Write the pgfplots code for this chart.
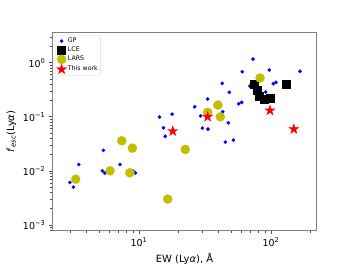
\documentclass[border=0pt]{standalone}
\usepackage{fontspec}
\setmainfont{DejaVu Sans}
\usepackage{pgfplots}
\pgfplotsset{compat=1.18}
\definecolor{mplyellow}{RGB}{191,191,0}
\pgfdeclareplotmark{fstar}{%
  \pgfpathmoveto{\pgfpoint{0pt}{\pgfplotmarksize}}%
  \pgfpathlineto{\pgfpoint{-0.2245\pgfplotmarksize}{0.309\pgfplotmarksize}}%
  \pgfpathlineto{\pgfpoint{-0.9511\pgfplotmarksize}{0.309\pgfplotmarksize}}%
  \pgfpathlineto{\pgfpoint{-0.3633\pgfplotmarksize}{-0.118\pgfplotmarksize}}%
  \pgfpathlineto{\pgfpoint{-0.5878\pgfplotmarksize}{-0.809\pgfplotmarksize}}%
  \pgfpathlineto{\pgfpoint{0pt}{-0.382\pgfplotmarksize}}%
  \pgfpathlineto{\pgfpoint{0.5878\pgfplotmarksize}{-0.809\pgfplotmarksize}}%
  \pgfpathlineto{\pgfpoint{0.3633\pgfplotmarksize}{-0.118\pgfplotmarksize}}%
  \pgfpathlineto{\pgfpoint{0.9511\pgfplotmarksize}{0.309\pgfplotmarksize}}%
  \pgfpathlineto{\pgfpoint{0.2245\pgfplotmarksize}{0.309\pgfplotmarksize}}%
  \pgfpathclose
  \pgfusepathqfillstroke
}
\begin{document}
\begin{tikzpicture}
\path (-52.3bp,-35.3bp) rectangle (299.7bp,230.7bp);
\begin{axis}[
  at={(0,0)}, anchor=south west, scale only axis,
  width=264.4bp, height=198.4bp,
  xmode=log, ymode=log,
  xmin=2.2, xmax=222, ymin=7.8e-4, ymax=3.66,
  xtick={10,100}, xticklabels={10\textsuperscript{1},10\textsuperscript{2}},
  ytick={0.001,0.01,0.1,1},
  yticklabels={10\textsuperscript{−3},10\textsuperscript{−2},10\textsuperscript{−1},10\textsuperscript{0}},
  minor xtick={3,4,5,6,7,8,9,20,30,40,50,60,70,80,90,200},
  minor ytick={0.0008,0.0009,0.002,0.003,0.004,0.005,0.006,0.007,0.008,0.009,0.02,0.03,0.04,0.05,0.06,0.07,0.08,0.09,0.2,0.3,0.4,0.5,0.6,0.7,0.8,0.9,2,3},
  tick align=outside, xtick pos=bottom, ytick pos=left,
  major tick length=3.5bp, minor tick length=2bp,
  tick style={black!70, line width=0.6bp},
  axis line style={gray, line width=0.8bp},
  ticklabel style={font=\fontsize{9.5}{11}\selectfont},
  label style={font=\fontsize{10}{12}\selectfont},
  xlabel={EW (Ly\textit{α}), Å},
  ylabel={\textit{f}\textsubscript{\textit{esc}}(Ly\textit{α})},
  legend image code/.code={\draw[mark repeat=2,mark phase=2,#1] plot coordinates {(0bp,0bp)(7bp,0bp)(14bp,0bp)};},
  legend cell align=left,
  legend style={at={(0.0102,0.986)}, anchor=north west, draw=gray!30, rounded corners=2pt,
    fill=white, font=\fontsize{6.3}{7.5}\selectfont, inner sep=1.5pt, row sep=0.3pt,
    nodes={inner sep=1.3pt}},
]
% GP
\addplot[only marks, mark=*, mark size=1.65bp, blue, mark options={draw=blue, fill=blue}] coordinates {
(2.99,0.0061) (3.18,0.0050) (3.49,0.0131) (5.27,0.0100) (5.50,0.0091) (5.37,0.0239)
(7.18,0.0131) (9.01,0.0099) (9.38,0.0091) (14.3,0.0987) (15.3,0.0626) (15.8,0.0434)
(17.8,0.112) (26.4,0.153) (29.3,0.104) (30.2,0.0618) (33.3,0.0592) (33.1,0.213)
(43.0,0.124) (47.5,0.0774) (45.1,0.034) (51.8,0.037) (42.7,0.416) (48.3,0.283)
(56.9,0.174) (60.0,0.185) (60.6,0.681) (73.1,1.17) (69.3,0.37) (97.0,0.733)
(91.2,0.287) (90.2,0.19) (104,0.408) (109,0.434) (166,0.693) (80,0.33)
};
\addlegendentry{GP}
% LCE
\addplot[only marks, mark=square*, mark size=4bp, black] coordinates {
(74.8,0.398) (78.8,0.312) (81.5,0.245) (88.9,0.213) (98.2,0.219) (131,0.408)
};
\addlegendentry{LCE}
% LARS
\addplot[only marks, mark=*, mark size=4.5bp, mplyellow, mark options={draw=mplyellow, fill=mplyellow}] coordinates {
(3.31,0.0070) (6.03,0.0100) (8.51,0.0092) (7.40,0.036) (8.90,0.0263) (16.5,0.0030)
(22.4,0.0249) (33.1,0.121) (39.6,0.165) (41.3,0.100) (82.6,0.521)
};
\addlegendentry{LARS}
% This work
\addplot[only marks, mark=fstar, mark size=5.2bp, red, mark options={draw=red, fill=red, line width=0.4bp}] coordinates {
(18.0,0.0543) (33.1,0.100) (98.2,0.131) (149,0.0592)
};
\addlegendentry{This work}
\end{axis}
\end{tikzpicture}
\end{document}
